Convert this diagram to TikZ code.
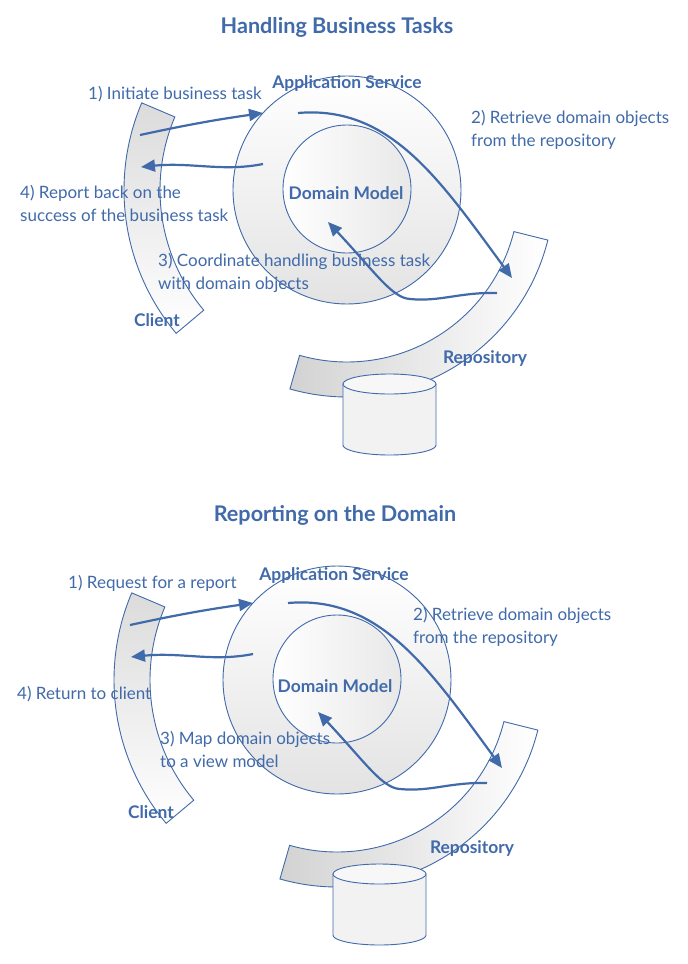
\documentclass[tikz,border=0pt]{standalone}
\usepackage{fontspec}
\setmainfont{Lato}
\usetikzlibrary{arrows.meta}
\definecolor{dblue}{RGB}{64,106,170}
\tikzset{
  shapeline/.style={draw=dblue, line width=0.9pt},
  outerring/.style={shapeline, circle, minimum size=228pt, inner sep=0pt, shading=axis, top color=white, bottom color=gray!22},
  innercore/.style={shapeline, circle, minimum size=128pt, inner sep=0pt, shading=axis, left color=white, right color=gray!18},
  boldlbl/.style={font=\bfseries\fontsize{17.4}{20}\selectfont, text=dblue, inner sep=0pt},
  steplbl/.style={font=\fontsize{17}{23}\selectfont, text=dblue, inner sep=0pt, align=left, anchor=west},
  titlelbl/.style={font=\bfseries\fontsize{21.6}{25}\selectfont, text=dblue, inner sep=0pt},
  flow/.style={draw=dblue, line width=2.2pt, -{Triangle[length=14pt,width=12pt]}},
}
\newcommand\drawmodel[1]{%
  % client band
  \path[shapeline, shading=axis, top color=gray!28, bottom color=white]
    plot[domain=140:203, samples=60] ({347+223*cos(\x)},{190+223*sin(\x)})
    -- plot[domain=203:140, samples=60] ({347+187*cos(\x)},{190+187*sin(\x)}) -- cycle;
  % repository band
  \path[shapeline, shading=axis, left color=gray!35, right color=white]
    plot[domain=14:106, samples=80] ({347+207*cos(\x)},{190+207*sin(\x)})
    -- plot[domain=106:14, samples=80] ({347+172*cos(\x)},{190+172*sin(\x)}) -- cycle;
  % database cylinder
  \path[shapeline, fill=gray!10] (343,384) -- (343,445)
    -- plot[domain=180:0, samples=40] ({389.5+46.5*cos(\x)},{445+10*sin(\x)})
    -- (436,384) -- cycle;
  \path[shapeline, fill=gray!6] (389.5,384) ellipse [x radius=46.5, y radius=10];
  % circles
  \node[outerring] (#1app) at (347,190) {};
  \node[innercore] (#1dom) at (347,189) {};
  % arrow ends
  \coordinate (#1a1s) at (140,135);
  \coordinate (#1a1e) at (263,113);
  \coordinate (#1a4s) at (263,164);
  \coordinate (#1a4e) at (141,167);
  \coordinate (#1a2s) at (298,113);
  \coordinate (#1a2e) at (512,278);
  \coordinate (#1a3s) at (497,293);
  \coordinate (#1a3e) at (328,222);
  \draw[flow] (#1a1s) to[bend left=2] (#1a1e);
  \draw[flow] (#1a4s) .. controls +(-40,8) and +(50,-5) .. (#1a4e);
  \draw[flow] (#1a2s) .. controls (390,105) and (440,180) .. (#1a2e);
  \draw[flow] (#1a3s) .. controls (460,292) and (440,302) .. (410,299)
    .. controls (392,298) and (375,272) .. (#1a3e);
}
\begin{document}
\begin{tikzpicture}[x=1pt, y=-1pt]
\useasboundingbox[fill=white] (0,0) rectangle (688,964);
% ---------- top diagram ----------
\drawmodel{t}
\node[titlelbl] (ttitle) at (337,27) {Handling Business Tasks};
\node[boldlbl] (tapplbl) at (347,83) {Application Service};
\node[boldlbl] (tdomlbl) at (346,193) {Domain Model};
\node[boldlbl] (tclilbl) at (157,320) {Client};
\node[boldlbl] (trepolbl) at (485,359) {Repository};
\node[steplbl] (ts1) at (88,94) {1) Initiate business task};
\node[steplbl] (ts2) at (471,129.5) {2) Retrieve domain objects\\from the repository};
\node[steplbl] (ts4) at (20,203.5) {4) Report back on the\\success of the business task};
\node[steplbl] (ts3) at (158,273) {3) Coordinate handling business task\\with domain objects};
% ---------- bottom diagram ----------
\begin{scope}[shift={(-10,490)}]
\drawmodel{b}
\end{scope}
\node[titlelbl] (btitle) at (335,515) {Reporting on the Domain};
\node[boldlbl] (bapplbl) at (334,575) {Application Service};
\node[boldlbl] (bdomlbl) at (335,686) {Domain Model};
\node[boldlbl] (bclilbl) at (151,812) {Client};
\node[boldlbl] (brepolbl) at (472,848) {Repository};
\node[steplbl] (bs1) at (68,583) {1) Request for a report};
\node[steplbl] (bs2) at (413,626.5) {2) Retrieve domain objects\\from the repository};
\node[steplbl] (bs4) at (17,694) {4) Return to client};
\node[steplbl] (bs3) at (160,749.5) {3) Map domain objects\\to a view model};
\end{tikzpicture}
\end{document}
